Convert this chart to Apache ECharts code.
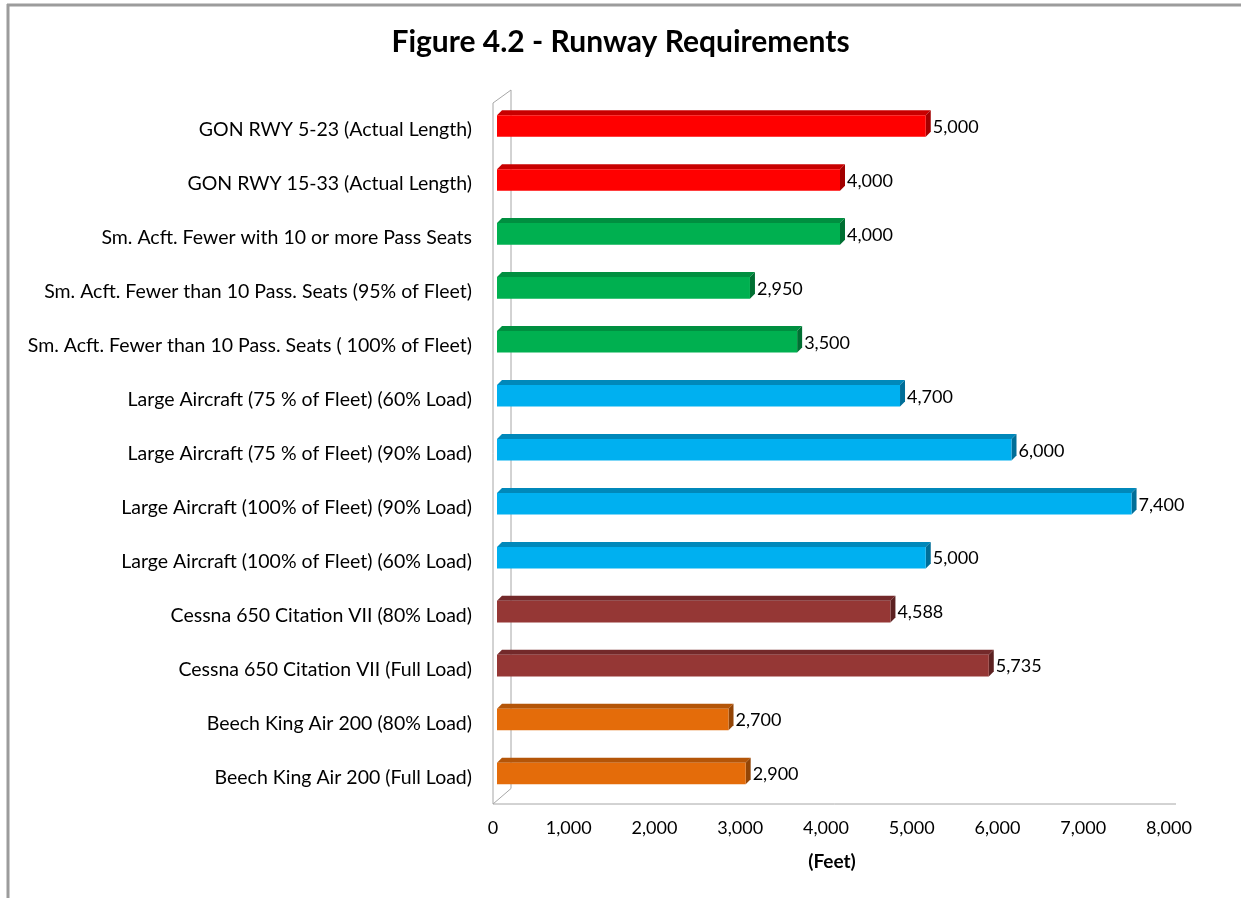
<!DOCTYPE html>
<html>
<head>
<meta charset="utf-8">
<script src="https://cdn.jsdelivr.net/npm/echarts@6/dist/echarts.min.js"></script>
<style>
  html, body { margin: 0; padding: 0; background: #fff; }
  #chart { width: 1241px; height: 898px; }
</style>
</head>
<body>
<div id="chart"></div>
<script>
// data, top to bottom
const categories = [
  "GON RWY 5-23 (Actual Length)",
  "GON RWY 15-33 (Actual Length)",
  "Sm. Acft. Fewer with 10 or more Pass Seats",
  "Sm. Acft. Fewer than 10 Pass. Seats (95% of Fleet)",
  "Sm. Acft. Fewer than 10 Pass. Seats ( 100% of Fleet)",
  "Large Aircraft (75 % of Fleet) (60% Load)",
  "Large Aircraft (75 % of Fleet) (90% Load)",
  "Large Aircraft (100% of Fleet) (90% Load)",
  "Large Aircraft (100% of Fleet) (60% Load)",
  "Cessna 650 Citation VII (80% Load)",
  "Cessna 650 Citation VII (Full Load)",
  "Beech King Air 200 (80% Load)",
  "Beech King Air 200 (Full Load)"
];
const runwayFeet = [5000, 4000, 4000, 2950, 3500, 4700, 6000, 7400, 5000, 4588, 5735, 2700, 2900];
const groups = ["gon", "gon", "small", "small", "small", "large", "large", "large", "large",
                "cessna", "cessna", "beech", "beech"];
const xTicks = [0, 1000, 2000, 3000, 4000, 5000, 6000, 7000, 8000];

const palette = {
  gon:    { front: "#FF0000", top: "#C80000", side: "#A20000" },
  small:  { front: "#00B050", top: "#008F40", side: "#006F32" },
  large:  { front: "#00B0F0", top: "#0088BA", side: "#006E98" },
  cessna: { front: "#953735", top: "#73292A", side: "#5C2121" },
  beech:  { front: "#E46C0A", top: "#B45508", side: "#934506" }
};

const GRID = { left: 497, right: 58, top: 97, bottom: 99.5 };
const DX = 5, DY = 5;
const FONT = "Lato";
const fmt = v => v.toLocaleString("en-US");

function renderBar(params, api) {
  const idx = api.value(1);
  const val = api.value(0);
  const p0 = api.coord([0, idx]);
  const p1 = api.coord([val, idx]);
  const band = api.size([0, 1])[1];
  const h = band * 0.40;
  const yc = p0[1] + 2;
  const yt = yc - h / 2, yb = yc + h / 2;
  const x0 = p0[0], x1 = p1[0];
  const c = palette[groups[idx]];
  return {
    type: "group",
    children: [
      { type: "polygon", shape: { points: [[x0, yt], [x1, yt], [x1 + DX, yt - DY], [x0 + DX, yt - DY]] },
        style: { fill: c.top } },
      { type: "polygon", shape: { points: [[x1, yt], [x1 + DX, yt - DY], [x1 + DX, yb - DY], [x1, yb]] },
        style: { fill: c.side } },
      { type: "rect", shape: { x: x0, y: yt, width: x1 - x0, height: h },
        style: { fill: c.front } },
      { type: "text", x: x1 + DX + 2, y: yc + 1,
        style: { text: fmt(val), font: "18px " + FONT, fill: "#000", verticalAlign: "middle", align: "left" } }
    ]
  };
}

const chart = echarts.init(document.getElementById("chart"));

const gx0 = GRID.left, gy0 = GRID.top, gy1 = 898 - GRID.bottom;
const gx8 = 1241 - GRID.right;
const lineStyle = { stroke: "#a6a6a6", lineWidth: 1 };

chart.setOption({
  animation: false,
  title: {
    text: "Figure 4.2 - Runway Requirements",
    left: "center",
    top: 22,
    textStyle: { fontFamily: FONT, fontWeight: "bold", fontSize: 30, color: "#000" }
  },
  grid: { left: GRID.left, right: GRID.right, top: GRID.top, bottom: GRID.bottom, containLabel: false },
  xAxis: {
    type: "value",
    min: xTicks[0],
    max: xTicks[xTicks.length - 1],
    interval: 1000,
    offset: 5.5,
    name: "(Feet)",
    nameLocation: "middle",
    nameGap: 48,
    nameTextStyle: { fontFamily: FONT, fontWeight: "bold", fontSize: 19, color: "#000", padding: [0, 16, 0, 0] },
    axisLine: { show: false },
    axisTick: { show: false },
    splitLine: { show: false },
    axisLabel: {
      margin: 15,
      formatter: v => v === 0 ? "{z|0}" : "{n|" + fmt(v) + "}",
      rich: {
        z: { fontFamily: FONT, fontSize: 18, color: "#000", padding: [0, 8, 0, 0] },
        n: { fontFamily: FONT, fontSize: 18, color: "#000", padding: [0, 28, 0, 0] }
      }
    }
  },
  yAxis: {
    type: "category",
    data: categories,
    inverse: true,
    offset: 4,
    axisLine: { show: false },
    axisTick: { show: false },
    axisLabel: {
      margin: 21,
      formatter: v => "{c|" + v + "}",
      rich: { c: { fontFamily: FONT, fontSize: 19.5, color: "#000", padding: [12, 0, 0, 0] } }
    }
  },
  graphic: [
    // chart frame
    { type: "line", shape: { x1: 7, y1: 5, x2: 1241, y2: 5 }, style: { stroke: "#9c9c9c", lineWidth: 3 } },
    { type: "line", shape: { x1: 8, y1: 4, x2: 8, y2: 898 }, style: { stroke: "#9c9c9c", lineWidth: 3 } },
    // 3D walls
    { type: "polyline", shape: { points: [
        [gx0 - 4, gy1 + 5.5], [gx0 - 4, gy0 + 6], [gx0 + 14, gy0 - 7], [gx0 + 14, gy1 - 10], [gx0 - 4, gy1 + 5.5], [gx8 - 7, gy1 + 5.5]
      ] }, style: Object.assign({ fill: null }, lineStyle) }
  ],
  series: [{
    type: "custom",
    renderItem: renderBar,
    encode: { x: 0, y: 1 },
    data: runwayFeet.map((v, i) => [v, i])
  }]
});
</script>
</body>
</html>
